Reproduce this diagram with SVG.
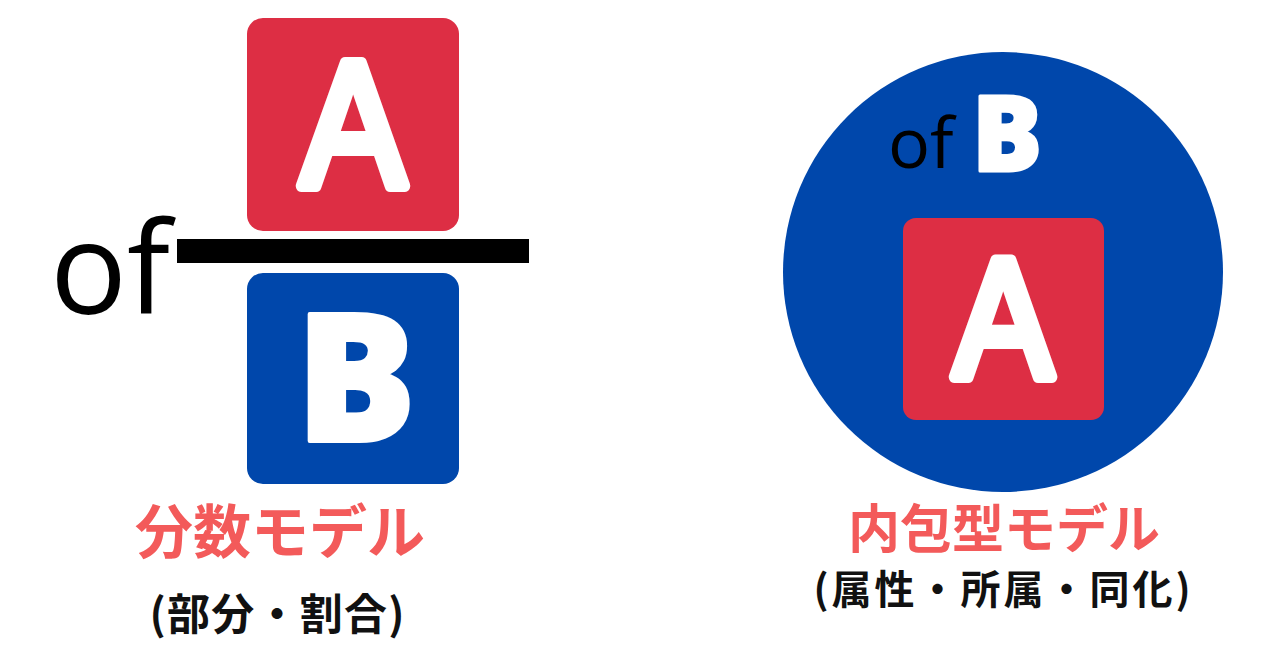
<svg xmlns="http://www.w3.org/2000/svg" width="1280" height="670" viewBox="0 0 1280 670">
<style>
.red{fill:#dd2e44}
.blue{fill:#0047ab}
.of{font-family:"Open Sans","Noto Sans",sans-serif;font-weight:400;fill:#000}
.let{font-family:"Open Sans","Noto Sans",sans-serif;font-weight:800;fill:#fff;stroke:#fff;stroke-linejoin:round;text-anchor:middle}
.leta{font-family:"Liberation Sans",Arial,sans-serif;font-weight:400;fill:#fff;stroke:#fff;stroke-linejoin:round;stroke-linecap:round;text-anchor:middle}
.title{font-family:"Noto Sans CJK JP","Noto Sans",sans-serif;font-weight:700;fill:#f35a5a;text-anchor:middle}
.sub{font-family:"Noto Sans CJK JP","Noto Sans",sans-serif;font-weight:700;fill:#111;text-anchor:middle}
</style>
<rect width="1280" height="670" fill="#fff"/>
<g id="fraction-model">
  <g id="box-a-left">
    <rect class="red" x="247" y="18" width="212" height="213" rx="16"/>
    <text class="leta" x="353" y="186" font-size="178" stroke-width="12" transform="translate(353 0) scale(0.88 1) translate(-353 0)">A</text>
  </g>
  <rect id="fraction-bar" x="177" y="239" width="352" height="24" fill="#000"/>
  <text id="of-left" class="of" x="50" y="314" font-size="128">of</text>
  <g id="box-b-left">
    <rect class="blue" x="247" y="273" width="212" height="211" rx="16"/>
    <text class="let" x="356" y="441" font-size="178" stroke-width="4">B</text>
  </g>
  <text id="title-left" class="title" x="280" y="553" font-size="58">分数モデル</text>
  <text id="sub-left" class="sub" x="277" y="630" font-size="43" textLength="255" lengthAdjust="spacing">(部分・割合)</text>
</g>
<g id="inclusion-model">
  <circle class="blue" cx="1003" cy="272" r="220"/>
  <text id="of-right" class="of" x="888" y="168" font-size="70">of</text>
  <text class="let" x="1007" y="171" font-size="104" stroke-width="3">B</text>
  <g id="box-a-right">
    <rect class="red" x="903" y="218" width="201" height="202" rx="13"/>
    <text class="leta" x="1003" y="377" font-size="168" stroke-width="12" transform="translate(1003 0) scale(0.88 1) translate(-1003 0)">A</text>
  </g>
  <text id="title-right" class="title" x="1004" y="548" font-size="52">内包型モデル</text>
  <text id="sub-right" class="sub" x="1002" y="604" font-size="40" textLength="377" lengthAdjust="spacing">(属性・所属・同化)</text>
</g>
<g id="connectors"></g>
</svg>
